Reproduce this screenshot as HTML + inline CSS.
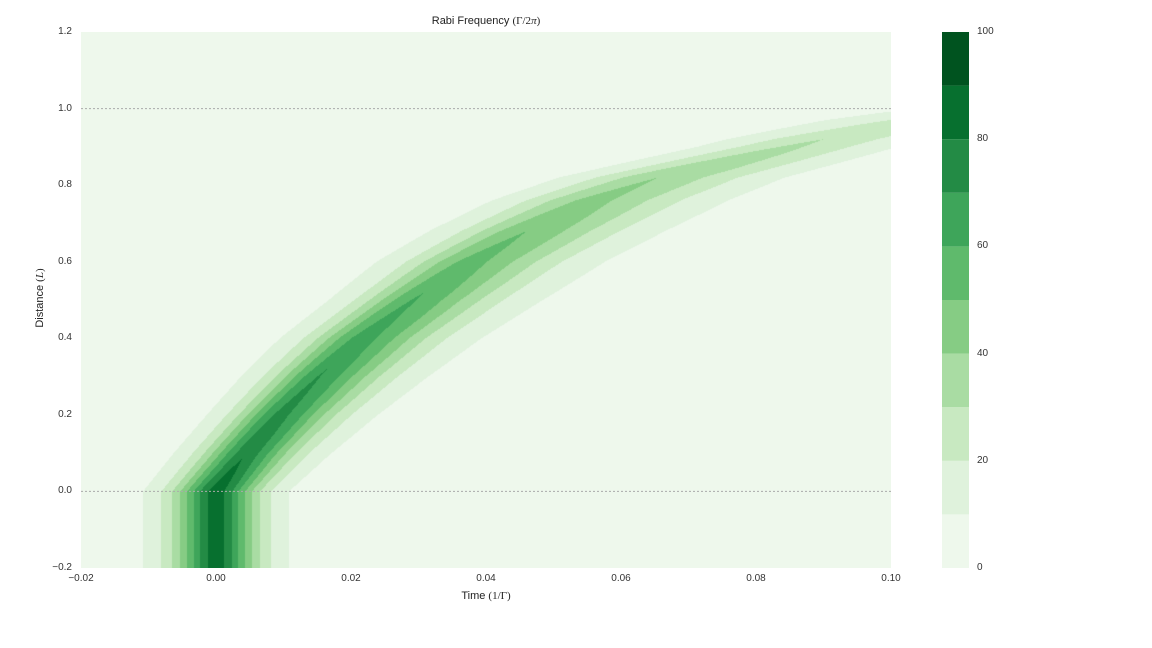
<!DOCTYPE html>
<html><head><meta charset="utf-8">
<style>
body{margin:0;background:#fff;font-family:"Liberation Sans",sans-serif;}
#root{position:relative;width:1152px;height:648px;overflow:hidden;}
.t{position:absolute;font-size:10px;color:#333;white-space:nowrap;}
.m{font-family:"Liberation Serif",serif;}
</style></head><body>
<div id="root">
<canvas id="plot" width="810" height="536" style="position:absolute;left:81px;top:32px"></canvas>
<svg id="ov" width="1152" height="648" style="position:absolute;left:0;top:0"></svg>
<div class="t" style="left:0;top:15px;width:972px;text-align:center;font-size:11px;color:#222">Rabi Frequency <span class="m">(Γ/2<i>π</i>)</span></div>
<div class="t" style="left:0;top:590px;width:972px;text-align:center;font-size:11px;color:#222">Time <span class="m">(1/Γ)</span></div>
<div class="t" style="left:-5px;top:292px;width:90px;text-align:center;font-size:11px;color:#222;transform:rotate(-90deg)">Distance <span class="m">(<i>L</i>)</span></div>
<div id="labels"></div>
</div>
<script>
// --- data ---
const levels=[0,10,20,30,40,50,60,70,80,90,100];
const colors=["#eef8ec","#dff2dc","#c8e9c1","#a9dca3","#86cc84","#5fba6c","#3ea55a","#238b45","#07702f","#00531f"];
const xTicks=[-0.02,0,0.02,0.04,0.06,0.08,0.10];
const xTickLabels=["\u22120.02","0.00","0.02","0.04","0.06","0.08","0.10"];
const yTicks=[-0.2,0,0.2,0.4,0.6,0.8,1.0,1.2];
const yTickLabels=["\u22120.2","0.0","0.2","0.4","0.6","0.8","1.0","1.2"];
const cbTicks=[0,20,40,60,80,100];
// pulse profile in time (offset -> value)
const profOff=[0,0.0012,0.0024,0.0033,0.0043,0.0053,0.0065,0.0081,0.0108,0.014,0.02];
const profVal=[88,80,70,60,50,40,30,20,10,5,0];
// pulse centre time vs distance
const ctrD=[0,0.1,0.2,0.3,0.4,0.5,0.6,0.68,0.76,0.82,0.92,0.97,1.02];
const ctrT=[0,0.0045,0.0095,0.0152,0.0215,0.0292,0.0375,0.046,0.0555,0.0655,0.090,0.105,0.125];
// peak value vs distance
const pkD=[0,0.088,0.32,0.52,0.68,0.82,0.92,0.97,1.0,1.03];
const pkV=[88,80,70,60,50,40,30,24,20,0];
// width scales vs distance (early side / late side)
const wD=[0,0.2,0.5,0.76,0.9,1.0,1.03];
const wLeft=[1,1.05,1.3,1.8,2.0,2.8,2.8];
const wRight=[1,1.4,2.0,2.5,2.3,2.4,2.4];
// --- scales ---
const X0=81,X1=891,Y0=32,Y1=568;
const xMin=-0.02,xMax=0.10,yMin=-0.2,yMax=1.2;
const sx=v=>X0+(v-xMin)/(xMax-xMin)*(X1-X0);
const sy=v=>Y1-(v-yMin)/(yMax-yMin)*(Y1-Y0);
function interp(xs,ys,x){
  if(x<=xs[0])return ys[0];
  for(let i=1;i<xs.length;i++){if(x<=xs[i]){const f=(x-xs[i-1])/(xs[i]-xs[i-1]);return ys[i-1]+f*(ys[i]-ys[i-1]);}}
  return ys[ys.length-1];
}
function field(t,d){
  if(d>=pkD[pkD.length-1])return 0;
  const dd=Math.max(0,d);
  const p=interp(pkD,pkV,dd),c=interp(ctrD,ctrT,dd);
  const s=t<c?interp(wD,wLeft,dd):interp(wD,wRight,dd);
  return p*interp(profOff,profVal,Math.abs(t-c)/s)/88;
}
// --- draw contour cells ---
const cv=document.getElementById('plot'),ctx=cv.getContext('2d');
const W=cv.width,H=cv.height,img=ctx.createImageData(W,H);
const rgb=colors.map(c=>[parseInt(c.slice(1,3),16),parseInt(c.slice(3,5),16),parseInt(c.slice(5,7),16)]);
for(let py=0;py<H;py++){
  const d=yMax-(py+0.5)/H*(yMax-yMin);
  for(let px=0;px<W;px++){
    const t=xMin+(px+0.5)/W*(xMax-xMin);
    const v=field(t,d);
    let k=Math.floor(v/10);k=Math.max(0,Math.min(9,k));
    const o=(py*W+px)*4,c=rgb[k];
    img.data[o]=c[0];img.data[o+1]=c[1];img.data[o+2]=c[2];img.data[o+3]=255;
  }
}
ctx.putImageData(img,0,0);
// --- overlay ---
const ns="http://www.w3.org/2000/svg",ov=document.getElementById('ov'),lab=document.getElementById('labels');
[0,1.0].forEach(v=>{
  const l=document.createElementNS(ns,'line');
  l.setAttribute('x1',X0);l.setAttribute('x2',X1);l.setAttribute('y1',sy(v));l.setAttribute('y2',sy(v));
  l.setAttribute('stroke','#aaa');l.setAttribute('stroke-width','1');l.setAttribute('stroke-dasharray','2,2');
  
  
  ov.appendChild(l);
});
xTicks.forEach((v,i)=>{
  const e=document.createElement('div');e.className='t';
  e.style.left=(sx(v)-25)+'px';e.style.width='50px';e.style.textAlign='center';e.style.top='573px';
  e.textContent=xTickLabels[i];
  
  
  lab.appendChild(e);
});
yTicks.forEach((v,i)=>{
  const e=document.createElement('div');e.className='t';
  e.style.left='20px';e.style.width='52px';e.style.textAlign='right';e.style.top=(sy(v)-6)+'px';
  e.textContent=yTickLabels[i];
  
  
  lab.appendChild(e);
});
// colorbar
const CB0=942,CB1=969;
const cy=v=>Y1-(v-levels[0])/(levels[levels.length-1]-levels[0])*(Y1-Y0);
for(let i=0;i<colors.length;i++){
  const r=document.createElementNS(ns,'rect');
  r.setAttribute('x',CB0);r.setAttribute('width',CB1-CB0);
  r.setAttribute('y',cy(levels[i+1]));r.setAttribute('height',cy(levels[i])-cy(levels[i+1]));
  r.setAttribute('fill',colors[i]);
  
  
  ov.appendChild(r);
}
cbTicks.forEach(v=>{
  const e=document.createElement('div');e.className='t';
  e.style.left='977px';e.style.top=(cy(v)-6)+'px';
  e.textContent=String(v);
  
  
  lab.appendChild(e);
});
</script>
</body></html>
